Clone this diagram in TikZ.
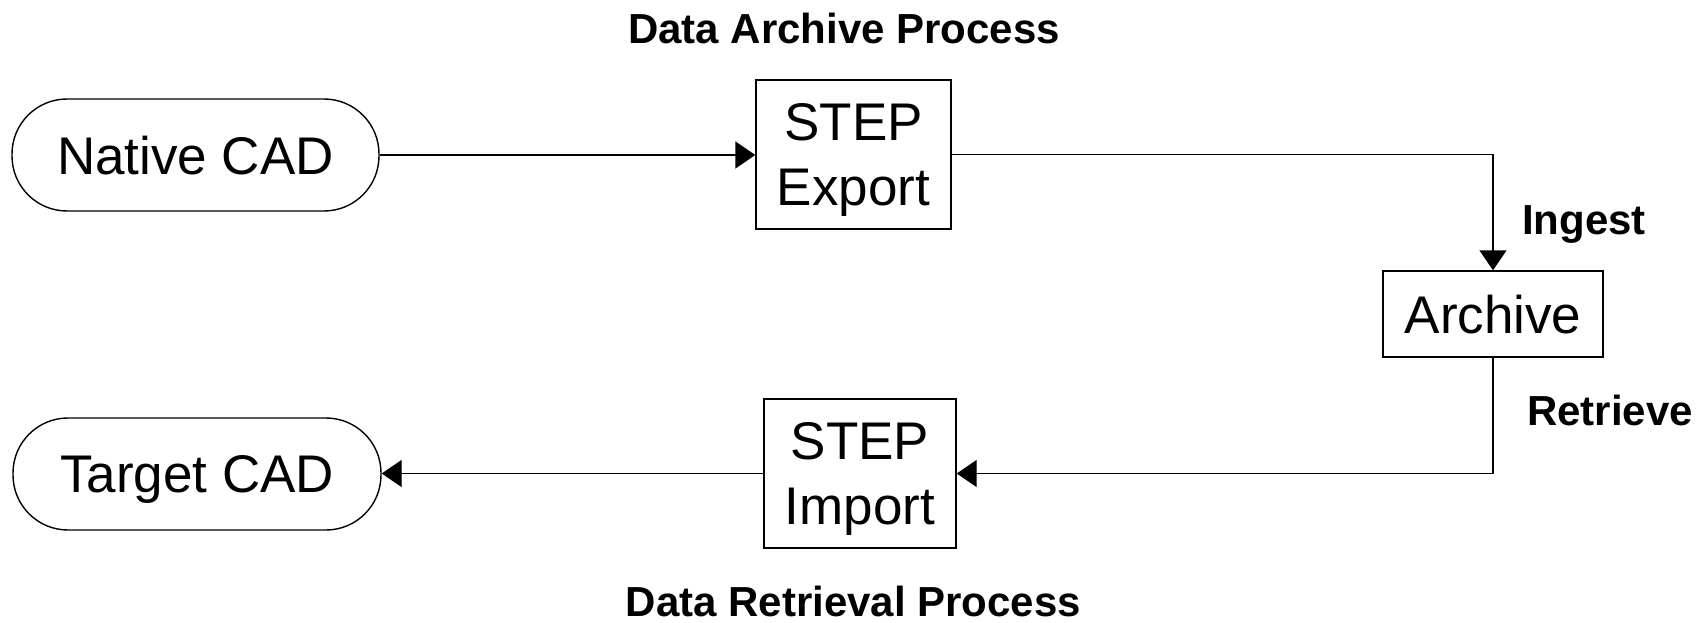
\documentclass[tikz,border=0pt]{standalone}
\usepackage{fontspec}
\setmainfont{Liberation Sans}
\usetikzlibrary{arrows.meta}
\tikzset{
  line/.style={line width=1.4pt},
  flow/.style={line, -{Triangle[length=20pt,width=27pt]}},
  cadbox/.style={draw, line, rounded corners=55pt, inner sep=0pt, text depth=0pt,
    font=\fontsize{53}{65}\selectfont},
  stepbox/.style={draw, line, inner sep=0pt, align=center, text depth=0pt,
    font=\fontsize{53}{65}\selectfont},
  tag/.style={anchor=base west, inner sep=0pt,
    font=\fontsize{42}{50}\selectfont\bfseries},
  title/.style={anchor=base, inner sep=0pt,
    font=\fontsize{42}{50}\selectfont\bfseries}
}
\begin{document}
\begin{tikzpicture}[x=1pt, y=-1pt]
  \useasboundingbox (0,0) rectangle (1705,623);

  % Process stages
  \node[cadbox, minimum width=367pt, minimum height=112pt] (native) at (195.5,155) {Native CAD};
  \node[cadbox, minimum width=368pt, minimum height=112pt] (target) at (197,474) {Target CAD};
  \node[stepbox, minimum width=195pt, minimum height=149pt] (export) at (853.5,154.5) {STEP\\Export};
  \node[stepbox, minimum width=192pt, minimum height=149pt] (import) at (860,473.5) {STEP\\Import};
  \node[stepbox, minimum width=220pt, minimum height=86pt] (archive) at (1493,314) {Archive};

  % Headings and flow labels
  \node[title] (ttop) at (844,44) {Data Archive Process};
  \node[title] (tbot) at (853.5,616) {Data Retrieval Process};
  \node[tag] (ingest) at (1522,234) {Ingest};
  \node[tag] (retrieve) at (1527,425) {Retrieve};

  % Connectors
  \draw[flow] (native.east) -- (native.east -| export.west);
  \draw[flow] (export.east) -| (archive.north);
  \draw[flow] (archive.south) |- (import.east);
  \draw[flow] (import.west) -- (import.west -| target.east);
\end{tikzpicture}
\end{document}
